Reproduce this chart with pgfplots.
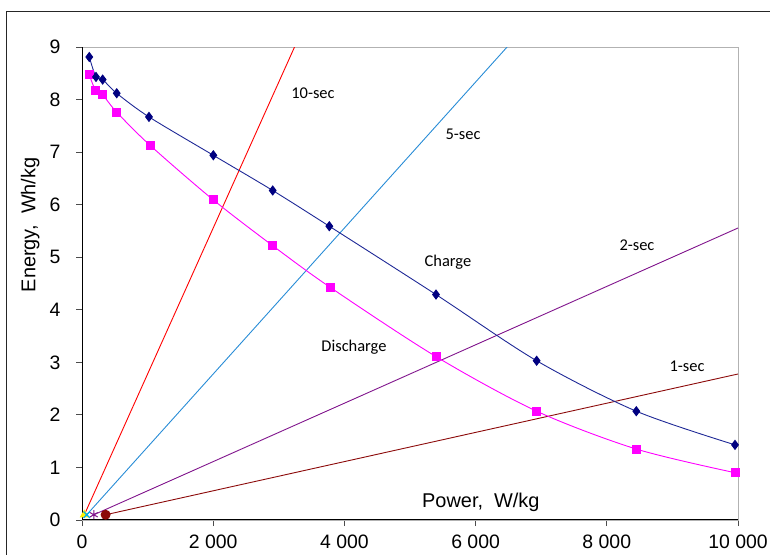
\documentclass[border=0pt]{standalone}
\usepackage{pgfplots}
\pgfplotsset{compat=1.18}
\usepackage{fontspec}
\setmainfont{Liberation Sans}
\newfontfamily\calib{Carlito}
\definecolor{chargec}{RGB}{0,0,128}
\definecolor{chargel}{RGB}{30,40,150}
\definecolor{dischc}{RGB}{255,0,255}
\definecolor{tensec}{RGB}{255,0,0}
\definecolor{fivesec}{RGB}{40,140,214}
\definecolor{twosec}{RGB}{128,20,140}
\definecolor{onesec}{RGB}{140,10,10}
\begin{document}
\begin{tikzpicture}
\useasboundingbox (0,0) rectangle (770bp,555bp);
\draw[line width=1bp,black!85] (6bp,0) -- (6bp,543bp) -- (770bp,543bp);
\begin{axis}[
  at={(82bp,35bp)}, anchor=south west,
  scale only axis, width=656bp, height=473bp,
  xmin=0, xmax=10000, ymin=0, ymax=9,
  xtick={0,2000,4000,6000,8000,10000},
  ytick={0,1,2,3,4,5,6,7,8,9},
  xtick pos=left, ytick pos=left,
  tick align=outside, major tick length=6bp,
  tick style={black!70, line width=0.8bp},
  axis line style={black!30, line width=1bp},
  /pgf/number format/assume math mode=true,
  /pgf/number format/1000 sep={\ },
  scaled x ticks=false,
  ticklabel style={font=\fontsize{19.5}{19.5}\selectfont},
  xticklabel style={yshift=-5bp},
  yticklabel style={xshift=-12bp},
  xlabel={Power,\ \ W/kg},
  ylabel={Energy,\ \ Wh/kg},
  every axis x label/.style={at={(axis description cs:0.608,0.038)},anchor=center,font=\fontsize{20}{20}\selectfont},
  every axis y label/.style={at={(axis description cs:-0.079,0.624)},anchor=center,rotate=90,font=\fontsize{20}{20}\selectfont},
  clip=true,
]
% axes lines left and bottom in black
\draw[black, line width=1.2bp] (rel axis cs:0,1) -- (rel axis cs:0,0) -- (rel axis cs:1,0);
% time lines
\addplot[tensec, line width=0.9bp, mark=triangle*, mark size=4.5bp, mark options={fill=yellow,draw=yellow}, mark repeat=2]
  coordinates {(36,0.1) (3240,9)};
\addplot[fivesec, line width=0.9bp, mark=x, mark size=4.5bp, mark options={draw=cyan,line width=1.2bp}, mark repeat=2]
  coordinates {(72,0.1) (6480,9)};
\addplot[twosec, line width=0.9bp, mark=asterisk, mark size=4.5bp, mark options={draw=twosec,line width=1bp}, mark repeat=2]
  coordinates {(180,0.1) (10000,5.556)};
\addplot[onesec, line width=0.9bp, mark=*, mark size=4.5bp, mark options={fill=onesec,draw=onesec}, mark repeat=2]
  coordinates {(360,0.1) (10000,2.778)};
% discharge
\addplot[dischc, line width=0.9bp, smooth, mark=square*, mark size=4bp, mark options={fill=dischc,draw=dischc}]
  coordinates {(107,8.48) (209,8.17) (315,8.09) (529,7.76) (1037,7.13) (2002,6.09) (2907,5.22) (3780,4.43) (5396,3.11) (6931,2.07) (8450,1.35) (9954,0.90)};
% charge
\addplot[chargel, line width=0.9bp, smooth, mark=diamond*, mark size=4.5bp, mark options={fill=chargec,draw=chargec}]
  coordinates {(111,8.81) (213,8.43) (315,8.38) (529,8.12) (1021,7.67) (2002,6.94) (2907,6.27) (3770,5.59) (5396,4.29) (6931,3.03) (8450,2.07) (9954,1.43)};
% labels
\node[font=\calib\fontsize{16.5}{16.5}\selectfont] at (axis cs:3521,8.12) {10-sec};
\node[font=\calib\fontsize{16.5}{16.5}\selectfont] at (axis cs:5808,7.34) {5-sec};
\node[font=\calib\fontsize{16.5}{16.5}\selectfont] at (axis cs:8460,5.23) {2-sec};
\node[font=\calib\fontsize{16.5}{16.5}\selectfont] at (axis cs:9223,2.93) {1-sec};
\node[font=\calib\fontsize{16.5}{16.5}\selectfont] at (axis cs:5579,4.91) {Charge};
\node[font=\calib\fontsize{16.5}{16.5}\selectfont] at (axis cs:4146,3.29) {Discharge};
\end{axis}
\end{tikzpicture}
\end{document}
